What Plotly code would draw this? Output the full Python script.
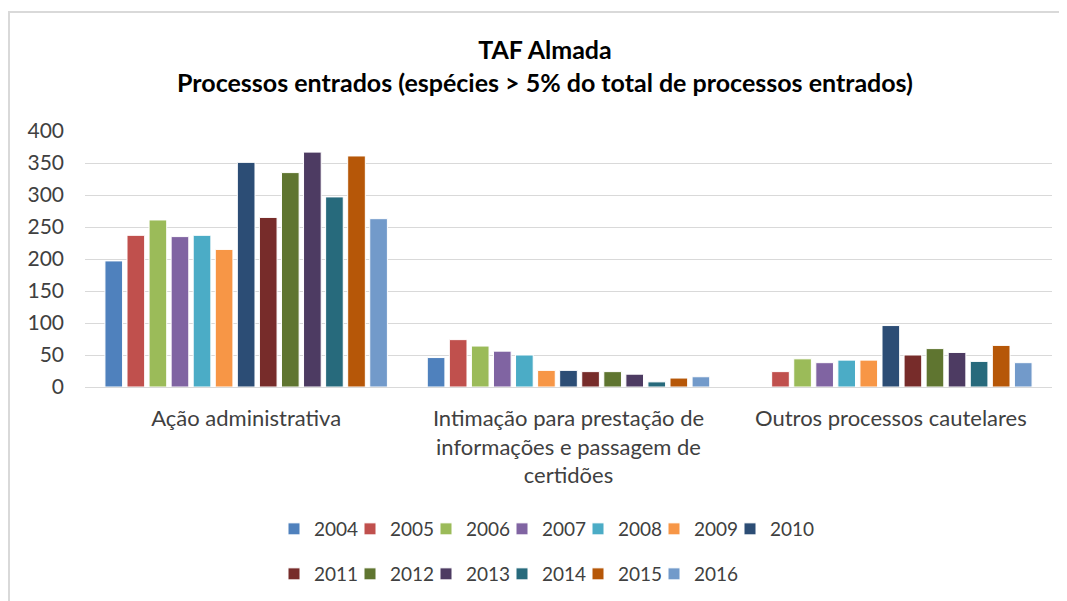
import plotly.graph_objects as go

categories = ["Ação administrativa",
              "Intimação para prestação de<br>informações e passagem de<br>certidões",
              "Outros processos cautelares"]
years = ["2004", "2005", "2006", "2007", "2008", "2009", "2010",
         "2011", "2012", "2013", "2014", "2015", "2016"]
values = {
    "2004": [197, 46, 0],
    "2005": [237, 74, 24],
    "2006": [261, 64, 44],
    "2007": [235, 56, 38],
    "2008": [237, 50, 42],
    "2009": [215, 26, 42],
    "2010": [351, 26, 96],
    "2011": [265, 24, 50],
    "2012": [335, 24, 60],
    "2013": [367, 20, 54],
    "2014": [297, 8, 40],
    "2015": [361, 14, 65],
    "2016": [263, 16, 38],
}
colors = ["#4F81BD", "#C0504D", "#9BBB59", "#8064A2", "#4BACC6", "#F79646", "#2C4D75",
          "#772C2A", "#5F7530", "#4D3B62", "#276A7C", "#B65708", "#729ACA"]
y_ticks = [0, 50, 100, 150, 200, 250, 300, 350, 400]

FONT = "Lato"
TXT = "#404040"
W, H = 1059, 593  # page body adds 8px offset
fig = go.Figure()
for i, (yr, col) in enumerate(zip(years, colors)):
    fig.add_trace(go.Bar(
        x=categories, y=values[yr], name=yr,
        marker=dict(color=col, line=dict(color="white", width=1)),
        legend="legend" if i < 7 else "legend2",
    ))
# invisible spacer entries so the last legend labels are not clipped
for lg in ("legend", "legend2"):
    fig.add_trace(go.Scatter(x=[None], y=[None], mode="markers", name=" ",
                             marker=dict(color="rgba(0,0,0,0)"), legend=lg,
                             hoverinfo="skip", showlegend=True))

leg_common = dict(orientation="h", xref="container", yref="container",
                  xanchor="left", yanchor="middle",
                  font=dict(family=FONT, size=19, color=TXT),
                  itemwidth=30, entrywidth=31, entrywidthmode="pixels",
                  traceorder="normal", bgcolor="rgba(0,0,0,0)")

fig.update_layout(
    width=W, height=H,
    paper_bgcolor="white", plot_bgcolor="white",
    margin=dict(l=77, r=15, t=123, b=214),
    barmode="group", bargap=0.11, bargroupgap=0.2,
    font=dict(family=FONT, size=21, color=TXT),
    title=dict(
        text="<b>TAF Almada</b><br><b>Processos entrados (espécies &gt; 5% do total de processos entrados)</b>",
        x=537 / W, xanchor="center", xref="container",
        y=1 - 51 / H, yanchor="middle", yref="container",
        font=dict(family=FONT, size=25, color="#000000"),
    ),
    xaxis=dict(showgrid=False, showline=False, ticks="", automargin=False,
               ticklabelstandoff=16,
               tickfont=dict(family=FONT, size=22, color=TXT)),
    yaxis=dict(range=[0, 400], tickvals=y_ticks, showgrid=True, gridcolor="#D9D9D9",
               gridwidth=1, zeroline=True, zerolinecolor="#D9D9D9", zerolinewidth=1,
               ticks="", automargin=False, ticklabelstandoff=20,
               tickfont=dict(family=FONT, size=21, color=TXT)),
    legend=dict(x=266 / W, y=1 - 521 / H, **leg_common),
    legend2=dict(x=266 / W, y=1 - 566 / H, **leg_common),
    shapes=[dict(type="rect", xref="paper", yref="paper",
                 x0=(1 - 77) / 967, x1=(1075 - 77) / 967,
                 y0=(379 - 615) / 256, y1=(379 - 4) / 256,
                 line=dict(color="#D9D9D9", width=2), fillcolor="rgba(0,0,0,0)",
                 layer="below")],
    showlegend=True,
)
fig.write_html("out.html")
